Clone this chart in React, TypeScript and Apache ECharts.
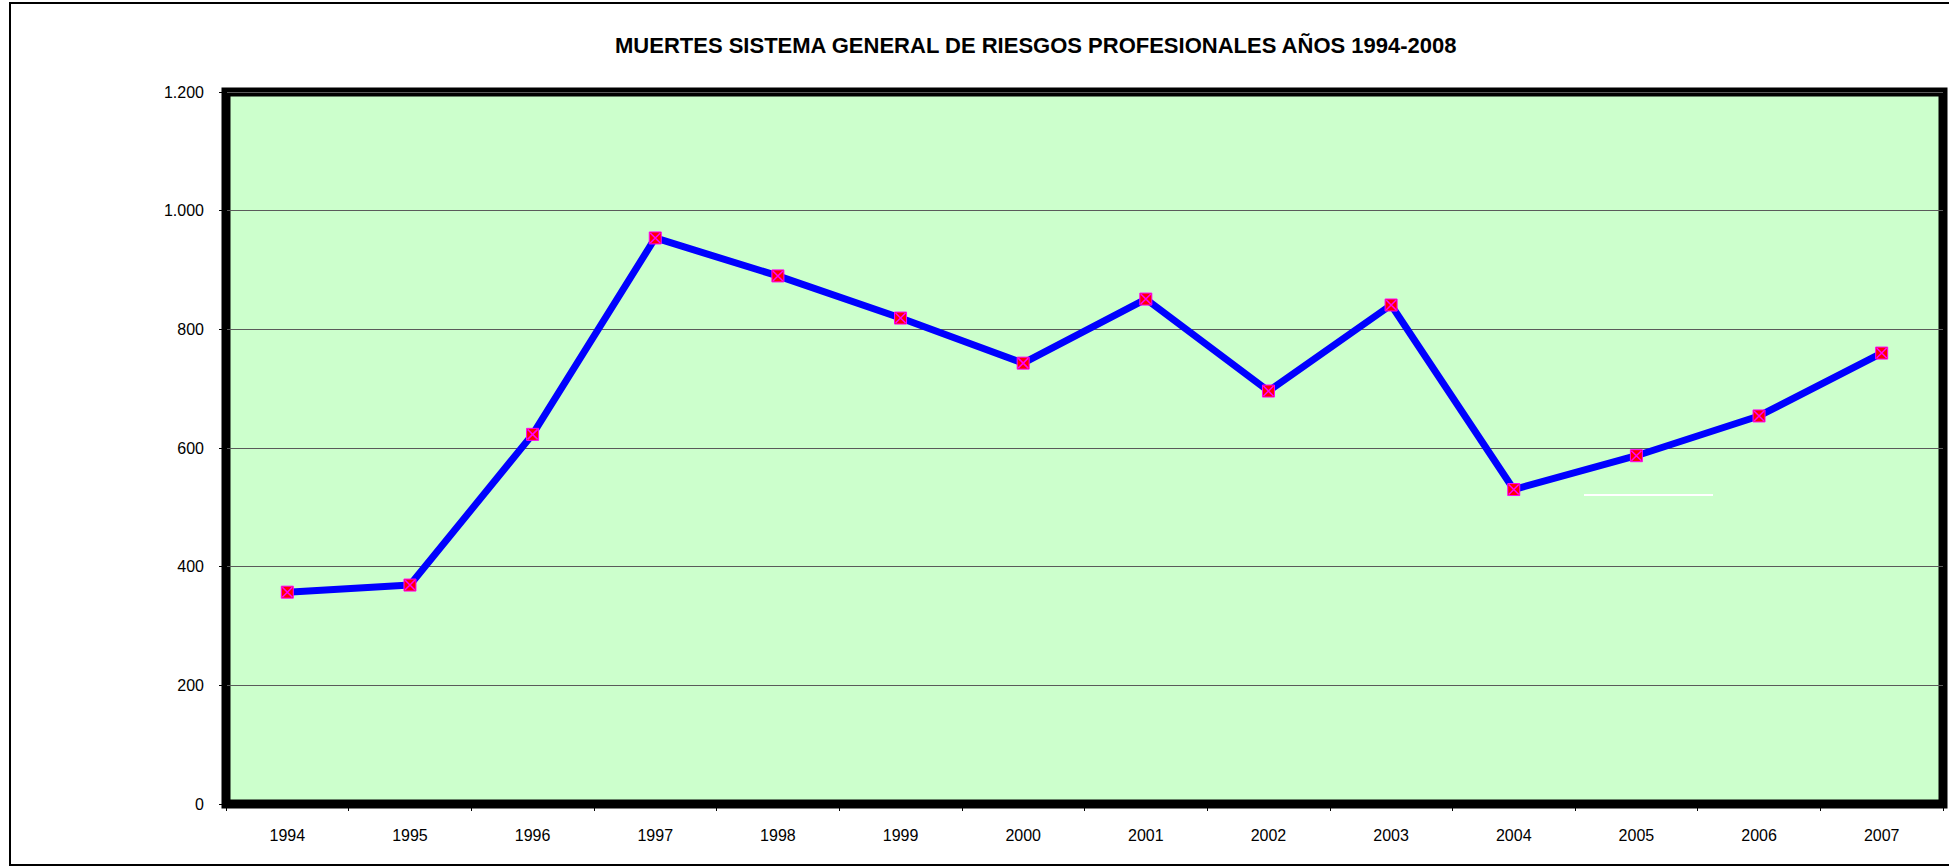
import React, { useEffect, useRef } from "react";
import * as echarts from "echarts";

const years = ["1994", "1995", "1996", "1997", "1998", "1999", "2000", "2001", "2002", "2003", "2004", "2005", "2006", "2007"];
const deaths = [357, 369, 623, 954, 890, 819, 743, 851, 696, 841, 530, 587, 654, 760];
const yMin = 0;
const yMax = 1200;
const yStep = 200;
const titleText = "MUERTES SISTEMA GENERAL DE RIESGOS PROFESIONALES AÑOS 1994-2008";

const FONT = "'Liberation Sans', Arial, sans-serif";

function fmt(v: number): string {
  return String(v).replace(/\B(?=(\d{3})+(?!\d))/g, ".");
}

export default function App() {
  const ref = useRef<HTMLDivElement>(null);
  useEffect(() => {
    if (!ref.current) return;
    const chart = echarts.init(ref.current, undefined, { renderer: "svg" });
    chart.setOption({
      animation: false,
      backgroundColor: "#FFFFFF",
      title: {
        text: titleText,
        left: 610,
        top: 29,
        textStyle: { fontFamily: FONT, fontSize: 22, fontWeight: "bold", color: "#000" },
      },
      grid: {
        left: 226,
        right: 6,
        top: 92,
        bottom: 62,
        show: true,
        backgroundColor: "#CCFFCC",
        borderColor: "#000000",
        borderWidth: 9,
        z: 0,
      },
      xAxis: {
        type: "category",
        data: years,
        boundaryGap: true,
        axisLine: { show: true, lineStyle: { color: "#000", width: 1 } },
        axisTick: { show: true, length: 7, lineStyle: { color: "#000", width: 1 } },
        axisLabel: { fontFamily: FONT, fontSize: 16, color: "#000", margin: 23 },
      },
      yAxis: {
        type: "value",
        min: yMin,
        max: yMax,
        interval: yStep,
        axisLine: { show: true, lineStyle: { color: "#000", width: 1 } },
        axisTick: { show: true, length: 7, lineStyle: { color: "#000", width: 1 } },
        axisLabel: { fontFamily: FONT, fontSize: 16, color: "#000", margin: 22, formatter: (v: number) => fmt(v) },
        splitLine: { show: true, lineStyle: { color: "#5a5a5a", width: 1 } },
      },
      series: [
        {
          type: "line",
          data: deaths,
          symbol: "rect",
          symbolSize: 12,
          showAllSymbol: true,
          lineStyle: { color: "#0000FF", width: 7 },
          itemStyle: { color: "#FF0000", borderColor: "#FF00FF", borderWidth: 1 },
          z: 3,
        },
        {
          type: "scatter",
          data: deaths,
          symbol: "path://M0 0L10 10M10 0L0 10",
          symbolSize: 10,
          itemStyle: { color: "none", borderColor: "#FF00FF", borderWidth: 1.5, opacity: 1 },
          z: 4,
        },
      ],
      graphic: [
        {
          type: "rect",
          shape: { x: 10, y: 3, width: 1945, height: 862 },
          style: { fill: "none", stroke: "#000", lineWidth: 2 },
          silent: true,
          z: 10,
        },
        {
          type: "line",
          shape: { x1: 1584, y1: 495, x2: 1713, y2: 495 },
          style: { stroke: "#FFFFFF", lineWidth: 2 },
          silent: true,
          z: 10,
        },
      ],
    });
    return () => chart.dispose();
  }, []);
  return (
    <div
      ref={ref}
      style={{ position: "fixed", left: 0, top: 0, width: "1949px", height: "866px", background: "#fff" }}
    />
  );
}
